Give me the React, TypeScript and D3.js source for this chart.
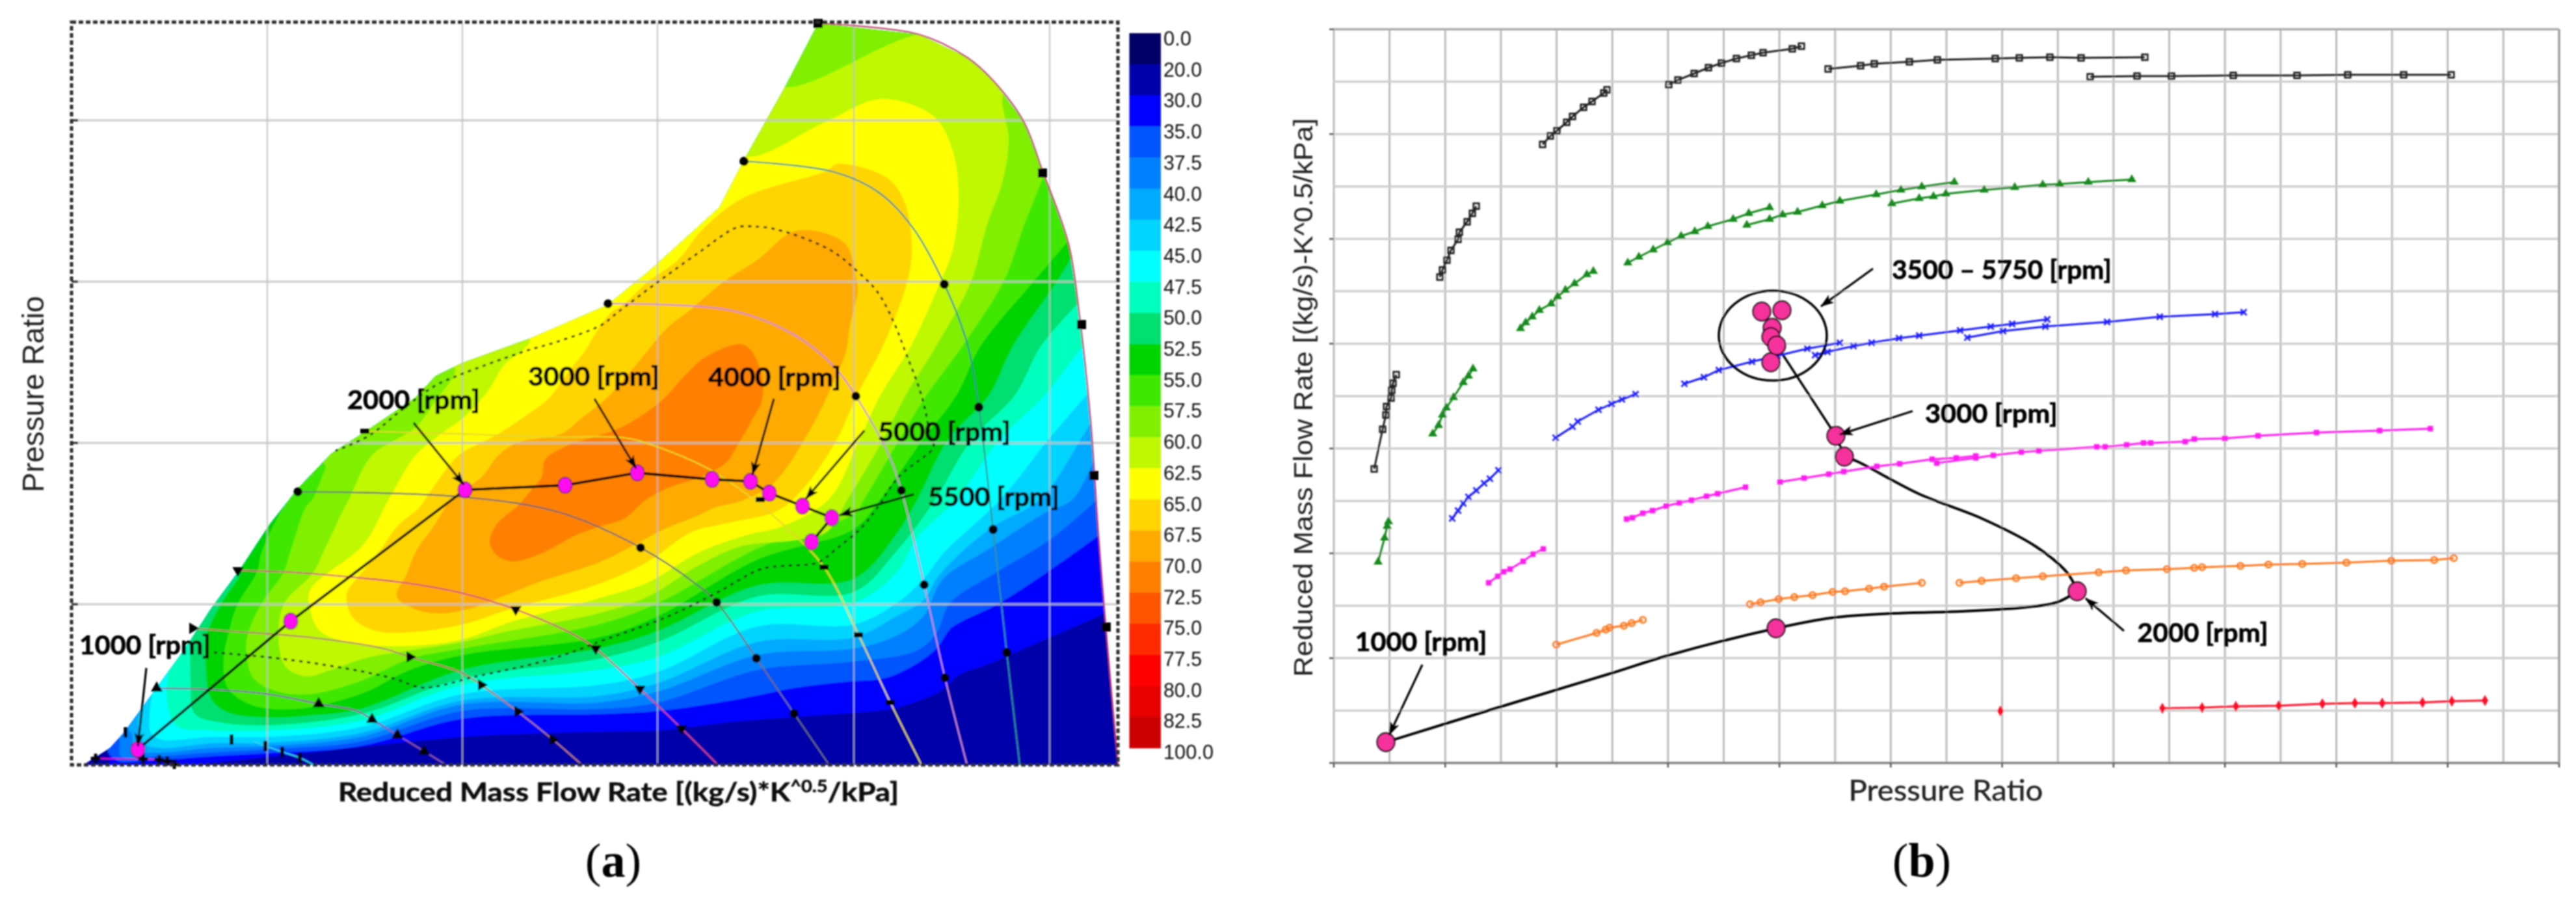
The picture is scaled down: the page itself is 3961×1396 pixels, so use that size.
import React from "react";
import * as d3 from "d3";

type P = [number, number];

// ---- panel (a): compressor efficiency map ----
const legendLabels = ["0.0", "20.0", "30.0", "35.0", "37.5", "40.0", "42.5", "45.0", "47.5", "50.0", "52.5", "55.0", "57.5", "60.0", "62.5", "65.0", "67.5", "70.0", "72.5", "75.0", "77.5", "80.0", "82.5", "100.0"];
const legendColors = ["#000066", "#0000AA", "#0000FF", "#0055FF", "#0080FF", "#00AAFF", "#00D4FF", "#00FFFF", "#00FFBF", "#00E070", "#00D400", "#40E800", "#80F000", "#BFF800", "#FFFF00", "#FFD500", "#FFAA00", "#FF8000", "#FF5500", "#FF2A00", "#FF0000", "#E60000", "#CC0000"];

const mapEnvelope: P[] = [[18, 0], [59, 26], [81, 50], [126, 112], [171, 174], [215, 241], [260, 302], [304, 369], [349, 426], [400, 479], [451, 512], [528, 564], [560, 598], [601, 618], [706, 656], [824, 707], [890, 761], [996, 857], [1033, 928], [1097, 1042], [1148, 1140], [1303, 1123], [1378, 1087], [1418, 1051], [1464, 989], [1493, 913], [1533, 801], [1550, 689], [1567, 528], [1579, 355], [1590, 217], [1609, 0]];

// iso-efficiency curves that run from the choke side round to the surge side
const eff30: P[] = [[1590, 233], [1504, 196], [1407, 154], [1366, 139], [1335, 113], [1295, 96], [1259, 86], [1116, 74], [1014, 66], [902, 53], [810, 51], [601, 43], [367, 19], [168, -1], [60, -10]];
const eff35: P[] = [[1580, 353], [1504, 299], [1422, 246], [1366, 219], [1351, 209], [1330, 179], [1295, 153], [1249, 133], [1193, 128], [1116, 119], [1014, 99], [902, 83], [810, 78], [601, 71], [444, 29], [301, 18], [214, 13], [112, 6], [71, 6], [56, 19]];
const eff375: P[] = [[1575, 406], [1504, 346], [1422, 296], [1351, 249], [1330, 203], [1300, 176], [1203, 159], [1055, 146], [902, 96], [810, 86], [601, 83], [444, 36], [301, 24], [214, 19], [127, 13], [76, 13], [74, 33]];
const eff40: P[] = [[1572, 469], [1540, 409], [1494, 386], [1412, 333], [1340, 286], [1310, 229], [1269, 199], [1203, 179], [1055, 169], [902, 113], [810, 96], [601, 93], [444, 43], [301, 29], [214, 26], [132, 19], [97, 23], [92, 49], [88, 52]];
const eff425: P[] = [[1567, 526], [1551, 499], [1490, 409], [1412, 363], [1335, 293], [1310, 253], [1269, 229], [1203, 196], [1055, 189], [902, 126], [810, 106], [601, 99], [444, 49], [301, 34], [214, 33], [138, 26], [112, 33], [102, 63], [107, 89]];
const eff45: P[] = [[1561, 569], [1501, 499], [1429, 409], [1341, 326], [1310, 286], [1269, 249], [1203, 216], [1055, 213], [902, 143], [810, 123], [601, 109], [444, 58], [301, 43], [214, 43], [138, 39], [122, 49], [120, 76], [125, 116]];
const eff475: P[] = [[1554, 643], [1497, 569], [1426, 499], [1361, 409], [1300, 349], [1269, 296], [1203, 249], [1055, 236], [902, 166], [810, 146], [601, 123], [444, 68], [301, 53], [214, 53], [163, 59], [148, 89], [148, 136], [158, 169]];
const eff50: P[] = [[1547, 709], [1490, 643], [1451, 569], [1383, 499], [1329, 409], [1269, 329], [1203, 266], [1055, 259], [902, 189], [810, 163], [601, 133], [444, 78], [301, 61], [224, 66], [189, 79], [183, 129], [183, 179], [186, 196], [201, 219], [214, 243]];
const eff525: P[] = [[1538, 781], [1515, 743], [1447, 643], [1411, 569], [1347, 499], [1301, 409], [1269, 356], [1203, 286], [1055, 276], [902, 206], [810, 179], [601, 146], [444, 86], [367, 76], [301, 73], [240, 81], [214, 103], [206, 163], [206, 196], [229, 246], [260, 296], [257, 299]];
const eff55: P[] = [[1533, 806], [1479, 743], [1397, 643], [1361, 569], [1308, 499], [1244, 409], [1203, 363], [1055, 316], [902, 229], [810, 196], [601, 169], [520, 146], [444, 109], [342, 86], [275, 93], [240, 119], [234, 163], [240, 196], [255, 246], [285, 296], [293, 329], [326, 396], [349, 426]];
const eff575: P[] = [[1495, 906], [1464, 828], [1433, 743], [1369, 643], [1315, 569], [1272, 499], [1219, 409], [1203, 386], [1055, 333], [902, 249], [810, 216], [601, 179], [520, 163], [444, 129], [367, 109], [316, 113], [280, 133], [270, 163], [270, 196], [291, 246], [326, 296], [337, 329], [360, 396], [371, 409], [391, 459]];

// closed islands
const eff60: P[] = [[319, 183], [326, 246], [372, 296], [388, 329], [420, 396], [427, 409], [462, 476], [529, 519], [559, 559], [590, 608], [570, 636], [1040, 1076], [1097, 1042], [1303, 1123], [1390, 1116], [1450, 1046], [1432, 1029], [1441, 962], [1432, 899], [1407, 828], [1383, 743], [1329, 643], [1283, 569], [1247, 499], [1194, 409], [1162, 359], [1116, 346], [1029, 336], [963, 306], [887, 259], [810, 233], [673, 206], [601, 189], [520, 176], [459, 166], [398, 146], [362, 136], [331, 149]];
const eff625: P[] = [[367, 239], [367, 269], [449, 339], [488, 409], [529, 476], [564, 506], [605, 536], [641, 576], [666, 616], [692, 636], [705, 654], [680, 686], [990, 966], [1040, 935], [1160, 989], [1246, 1024], [1326, 997], [1355, 944], [1364, 872], [1355, 792], [1336, 743], [1290, 643], [1244, 569], [1211, 499], [1165, 409], [1091, 366], [1040, 354], [963, 326], [887, 281], [810, 256], [673, 219], [601, 193], [520, 183], [428, 188], [382, 206]];
const eff65: P[] = [[423, 263], [444, 293], [474, 329], [500, 366], [535, 396], [544, 409], [595, 476], [631, 496], [656, 509], [697, 536], [733, 563], [763, 603], [789, 636], [809, 669], [830, 696], [850, 709], [886, 743], [932, 776], [970, 823], [1033, 872], [1160, 913], [1177, 924], [1252, 904], [1280, 868], [1292, 797], [1285, 743], [1247, 643], [1208, 569], [1176, 499], [1126, 426], [1086, 391], [1004, 371], [953, 358], [887, 313], [810, 278], [673, 239], [601, 216], [520, 204], [469, 206], [433, 226]];
const eff675: P[] = [[500, 259], [515, 293], [530, 329], [556, 366], [585, 409], [631, 443], [656, 476], [687, 496], [753, 509], [784, 533], [825, 566], [871, 619], [917, 673], [947, 696], [1003, 743], [1054, 776], [1114, 821], [1188, 803], [1206, 752], [1209, 730], [1197, 676], [1190, 633], [1169, 583], [1136, 516], [1079, 433], [1030, 406], [989, 396], [963, 383], [912, 363], [861, 336], [810, 311], [724, 283], [673, 263], [622, 243], [571, 233], [530, 239]];
const eff70: P[] = [[667, 383], [687, 399], [707, 423], [723, 443], [728, 469], [758, 489], [845, 519], [906, 559], [947, 603], [978, 629], [1034, 646], [1059, 609], [1062, 563], [1044, 526], [1019, 483], [1008, 466], [968, 443], [917, 426], [881, 406], [850, 379], [810, 366], [775, 353], [724, 326], [678, 313], [653, 323], [643, 343], [653, 369]];

const openCurves: [string, P[]][] = [["30.0", eff30], ["35.0", eff35], ["37.5", eff375], ["40.0", eff40], ["42.5", eff425], ["45.0", eff45], ["47.5", eff475], ["50.0", eff50], ["52.5", eff525], ["55.0", eff55], ["57.5", eff575]];
const closedCurves: [string, P[]][] = [["60.0", eff60], ["62.5", eff625], ["65.0", eff65], ["67.5", eff675], ["70.0", eff70]];

// speed lines, each with the points measured on it
const speed1: P[] = [[1148, 1140], [1303, 1123], [1378, 1087], [1418, 1051], [1464, 989], [1493, 913], [1533, 801], [1550, 689], [1567, 528], [1579, 355], [1590, 217], [1609, 0]];
const speed1Pts: P[] = [[1148, 1140], [1493, 910], [1553, 677], [1572, 445], [1591, 212]];
const speed2: P[] = [[1034, 928], [1171, 912], [1240, 881], [1292, 828], [1342, 739], [1378, 645], [1395, 550], [1417, 362], [1438, 173], [1458, 0]];
const speed2Pts: P[] = [[1034, 928], [1342, 739], [1395, 550], [1417, 362], [1438, 173]];
const speed3: P[] = [[825, 709], [1013, 699], [1108, 663], [1171, 614], [1206, 567], [1257, 476], [1276, 422], [1311, 277], [1343, 134], [1377, 0]];
const speed3Pts: P[] = [[825, 709], [1206, 567], [1276, 422], [1311, 277], [1343, 134]];
const speed4: P[] = [[451, 513], [595, 509], [748, 504], [850, 503], [901, 489], [978, 456], [1029, 423], [1096, 368], [1157, 304], [1210, 200], [1259, 96], [1307, 0]];
const speed4Pts: P[] = [[451, 513], [1059, 408], [1157, 304], [1210, 200], [1259, 96]];
const speed5: P[] = [[348, 420], [601, 412], [751, 388], [875, 334], [963, 276], [992, 250], [1053, 164], [1111, 79], [1165, 0]];
const speed5Pts: P[] = [[348, 420], [875, 334], [992, 250], [1053, 164], [1111, 79]];
const speed6: P[] = [[256, 299], [342, 296], [428, 289], [520, 279], [601, 264], [683, 239], [775, 199], [806, 179], [874, 117], [938, 56], [994, 0]];
const speed6Pts: P[] = [[256, 299], [683, 239], [806, 179], [874, 117], [938, 56]];
const speed7: P[] = [[186, 210], [240, 206], [367, 196], [479, 179], [520, 166], [597, 143], [630, 123], [686, 82], [740, 39], [785, 0]];
const speed7Pts: P[] = [[186, 210], [520, 166], [630, 123], [686, 82], [740, 39]];
const speed8: P[] = [[131, 118], [214, 116], [301, 109], [380, 94], [439, 83], [462, 70], [501, 46], [542, 21], [576, 0]];
const speed8Pts: P[] = [[131, 118], [380, 94], [462, 70], [501, 46], [542, 21]];
const speed9: P[] = [[280, 36], [298, 29], [324, 20], [351, 11], [372, 0]];
const speed9Pts: P[] = [[83, 50], [246, 39], [298, 29], [324, 20], [351, 11]];
const speed10: P[] = [[37, 10], [110, 9], [135, 8], [147, 6], [158, 1]];

const surgeLimit: P[] = [[219, 173], [316, 164], [418, 149], [495, 133], [541, 119], [622, 136], [724, 159], [785, 179], [810, 189], [912, 226], [989, 263], [1060, 301], [1096, 306], [1147, 311], [1177, 333], [1213, 363], [1236, 391], [1272, 443], [1326, 489], [1322, 499], [1311, 553], [1301, 586], [1283, 633], [1265, 679], [1240, 726], [1206, 761], [1166, 792], [1085, 823], [1045, 828], [1022, 826], [965, 788], [901, 742], [840, 696], [814, 676], [748, 651], [697, 636], [595, 599], [559, 583], [508, 546], [457, 506], [406, 483]];
const opLineA: P[] = [[102, 24], [337, 221], [605, 423], [759, 430], [870, 449], [985, 439], [1044, 436], [1073, 418], [1124, 398], [1169, 380], [1138, 343]];

const xGridA = [301, 601, 901, 1203, 1504];
const yGridA = [247, 495, 743, 991];

// label, label x, label y, label width, arrow start x, y, arrow tip x, y
const notesA: [string, number, number, number, number, number, number, number][] = [
  ["1000 [rpm]", 113, 186, 202, 115, 149, 102, 29],
  ["2000 [rpm]", 526, 563, 204, 526, 526, 603, 431],
  ["3000 [rpm]", 803, 599, 202, 804, 563, 868, 456],
  ["4000 [rpm]", 1081, 598, 204, 1080, 563, 1047, 446],
  ["5000 [rpm]", 1342, 514, 204, 1219, 514, 1129, 409],
  ["5500 [rpm]", 1418, 414, 202, 1295, 416, 1181, 384],
];

// ---- panel (b): speed lines in reduced flow / pressure ratio ----
const black1: P[] = [[62, 452], [75, 513], [80, 535], [81, 548], [88, 561], [89, 573], [91, 584], [96, 597]];
const black2: P[] = [[163, 747], [167, 758], [174, 773], [180, 788], [191, 805], [193, 816], [205, 832], [213, 845], [219, 856]];
const black3: P[] = [[321, 951], [333, 964], [343, 972], [358, 985], [367, 994], [384, 1008], [397, 1017], [415, 1030], [420, 1035]];
const black4: P[] = [[515, 1043], [529, 1050], [554, 1060], [576, 1069], [596, 1076], [619, 1083], [642, 1088], [660, 1092], [705, 1098], [719, 1102]];
const black5: P[] = [[760, 1067], [810, 1072], [831, 1075], [885, 1078], [928, 1081], [1017, 1083], [1054, 1084], [1101, 1085], [1149, 1084], [1247, 1085]];
const black6: P[] = [[1163, 1055], [1235, 1056], [1288, 1056], [1383, 1057], [1481, 1057], [1559, 1058], [1645, 1058], [1718, 1058]];
const green1: P[] = [[68, 309], [78, 346], [82, 364], [84, 371]];
const green2: P[] = [[152, 506], [161, 519], [167, 535], [173, 546], [184, 562], [199, 585], [207, 595], [214, 606]];
const green3: P[] = [[287, 668], [295, 677], [305, 686], [316, 696], [334, 706], [344, 717], [356, 727], [370, 737], [389, 751], [399, 756]];
const green4: P[] = [[452, 769], [469, 778], [491, 789], [513, 800], [534, 810], [555, 817], [575, 825], [614, 836], [638, 845], [670, 854]];
const green5: P[] = [[635, 827], [670, 836], [690, 843], [713, 847], [751, 857], [778, 864], [834, 874], [872, 881], [904, 886], [954, 893]];
const green6: P[] = [[858, 860], [900, 868], [922, 871], [941, 875], [1000, 881], [1047, 885], [1090, 889], [1116, 890], [1160, 893], [1227, 897]];
const blue1: P[] = [[182, 376], [191, 388], [199, 399], [207, 409], [219, 419], [231, 430], [240, 437], [253, 450]];
const blue2: P[] = [[341, 500], [367, 517], [375, 525], [407, 543], [427, 552], [443, 559], [464, 567]];
const blue3: P[] = [[539, 583], [569, 593], [592, 604], [643, 617], [682, 626], [728, 637], [778, 646]];
const blue4: P[] = [[740, 627], [759, 632], [799, 641], [827, 646], [869, 653], [900, 657], [963, 665], [1010, 671], [1043, 675], [1097, 682]];
const blue5: P[] = [[974, 654], [1029, 664], [1094, 671], [1189, 678], [1270, 686], [1355, 690], [1399, 693]];
const magenta1: P[] = [[238, 277], [252, 287], [261, 294], [271, 298], [291, 310], [306, 321], [322, 329]];
const magenta2: P[] = [[450, 375], [459, 377], [475, 384], [490, 388], [511, 395], [531, 400], [550, 404], [573, 410], [590, 414], [633, 424]];
const magenta3: P[] = [[686, 432], [723, 438], [761, 444], [784, 448], [835, 456], [870, 460], [920, 467], [957, 469], [987, 472]];
const magenta4: P[] = [[927, 461], [987, 469], [1014, 473], [1057, 478], [1084, 480], [1173, 486], [1186, 486], [1219, 489], [1245, 492], [1256, 492], [1309, 494], [1323, 498], [1370, 499], [1421, 503], [1511, 508], [1608, 511], [1686, 514]];
const orange1: P[] = [[342, 182], [404, 200], [418, 205], [424, 208], [446, 211], [458, 215], [475, 220]];
const orange2: P[] = [[640, 244], [656, 247], [684, 252], [708, 255], [736, 258], [767, 263], [786, 264], [823, 268], [846, 271], [904, 277]];
const orange3: P[] = [[962, 277], [996, 280], [1049, 284], [1090, 287], [1176, 293], [1218, 296], [1281, 298], [1323, 300], [1335, 301], [1394, 303], [1437, 305], [1489, 306], [1557, 308], [1626, 311], [1692, 312], [1722, 315]];
const red1: P[] = [[1025, 80]];
const red2: P[] = [[1274, 84], [1335, 85], [1387, 87], [1453, 88], [1520, 91], [1570, 92], [1612, 92], [1674, 93], [1719, 95], [1770, 96]];

const opLowerB: P[] = [[80, 32], [255, 86], [427, 138], [513, 165], [680, 207], [765, 223], [861, 230], [963, 233], [1060, 239], [1112, 247], [1143, 264]];
const opUpperB: P[] = [[1143, 264], [1128, 292], [1079, 333], [996, 376], [899, 414], [804, 464], [785, 471]];
const opTopB: P[] = [[785, 471], [772, 503], [681, 642]];
const opPointsB: P[] = [[80, 32], [680, 207], [1143, 264], [785, 471], [772, 503], [672, 616], [658, 694], [689, 696], [674, 669], [672, 655], [681, 642]];

const notesB: [string, number, number, number, number, number, number, number][] = [
  ["3500 – 5750 [rpm]", 1027, 760, 338, 829, 760, 749, 702],
  ["3000 [rpm]", 1011, 539, 204, 890, 541, 778, 505],
  ["2000 [rpm]", 1336, 202, 201, 1215, 203, 1156, 253],
  ["1000 [rpm]", 134, 188, 203, 136, 151, 85, 43],
];

const xa = d3.scaleLinear().domain([0, 1609]).range([110, 1719]);
const ya = d3.scaleLinear().domain([0, 1142]).range([1176, 34]);
const xb = d3.scaleLinear().domain([0, 1884]).range([2051, 3935]);
const yb = d3.scaleLinear().domain([0, 1128]).range([1173, 45]);

const legendY = d3.scaleBand().domain(legendColors).range([51, 1150]);
const effColor = d3.scaleOrdinal<string, string>().domain(legendLabels.slice(0, -1)).range(legendColors);

const lineA = d3.line<P>().x((d) => xa(d[0])).y((d) => ya(d[1])).curve(d3.curveCatmullRom.alpha(0.5));
const closedA = d3.line<P>().x((d) => xa(d[0])).y((d) => ya(d[1])).curve(d3.curveCatmullRomClosed.alpha(0.5));
const straightA = d3.line<P>().x((d) => xa(d[0])).y((d) => ya(d[1]));
const lineB = d3.line<P>().x((d) => xb(d[0])).y((d) => yb(d[1])).curve(d3.curveCatmullRom.alpha(0.5));
const straightB = d3.line<P>().x((d) => xb(d[0])).y((d) => yb(d[1]));

const labelFont = "Lato, 'Open Sans', sans-serif";
const arialFont = "'Liberation Sans', Arial, sans-serif";
const serifFont = "'Liberation Serif', 'Times New Roman', serif";

const sym = (type: d3.SymbolType, size: number) => d3.symbol().type(type).size(size)() as string;

function Markers({ pts, x, y, d, fill, stroke = "none", sw = 0, rotate = 0, sx = 1, sy = 1 }: any) {
  return (
    <g>
      {pts.map((p: P, i: number) => (
        <path key={i} d={d} fill={fill} stroke={stroke} strokeWidth={sw}
          transform={`translate(${x(p[0])},${y(p[1])}) rotate(${rotate}) scale(${sx},${sy})`} />
      ))}
    </g>
  );
}

function Note({ note, x, y }: any) {
  const [label, lx, ly, w, ax, ay, tx, ty] = note;
  return (
    <g>
      <line x1={x(ax)} y1={y(ay)} x2={x(tx)} y2={y(ty)} stroke="#000" strokeWidth={3.2} markerEnd="url(#arrowHead)" />
      <text x={x(lx)} y={y(ly)} textAnchor="middle" dominantBaseline="central" fontFamily={labelFont} fontWeight={700} fontSize={41}
        textLength={w} lengthAdjust="spacingAndGlyphs" fill="#000" stroke="#000" strokeWidth={0.7}>{label}</text>
    </g>
  );
}

function PanelA() {
  const wrap = `L${xa(-30)},${ya(1165)}L${xa(1650)},${ya(1165)}Z`;
  const speedLines: [P[], string][] = [
    [speed1, "#c0396a"], [speed2, "#2f9090"], [speed3, "#cf86cf"], [speed4, "#e6d628"], [speed5, "#6a6a6a"],
    [speed6, "#d8437c"], [speed7, "#b8786a"], [speed8, "#8d52a8"], [speed9, "#2fd6e8"], [speed10, "#e815d0"],
  ];
  return (
    <g>
      <clipPath id="mapClip"><path d={straightA(mapEnvelope) + "Z"} /></clipPath>
      <g clipPath="url(#mapClip)">
        <rect x={xa(0)} y={ya(1142)} width={xa(1609) - xa(0)} height={ya(0) - ya(1142)} fill={effColor("20.0")} />
        {openCurves.map(([lvl, pts]) => <path key={lvl} d={lineA(pts) + wrap} fill={effColor(lvl)} />)}
        {closedCurves.map(([lvl, pts]) => <path key={lvl} d={closedA(pts) as string} fill={effColor(lvl)} />)}
      </g>

      {xGridA.map((v) => <line key={v} x1={xa(v)} x2={xa(v)} y1={ya(0)} y2={ya(1142)} stroke="#bdbdbd" strokeOpacity={0.75} strokeWidth={2.5} />)}
      {yGridA.map((v) => <line key={v} x1={xa(0)} x2={xa(1609)} y1={ya(v)} y2={ya(v)} stroke="#c4c4c4" strokeOpacity={0.8} strokeWidth={3.5} />)}

      {speedLines.map(([pts, c], i) => <path key={i} d={lineA(pts) as string} fill="none" stroke={c} strokeWidth={2.2} />)}
      <path d={lineA(surgeLimit) as string} fill="none" stroke="#222" strokeWidth={3} strokeDasharray="5 7" />

      <Markers pts={speed1Pts} x={xa} y={ya} d={sym(d3.symbolSquare, 196)} fill="#000" />
      <Markers pts={speed2Pts} x={xa} y={ya} d={sym(d3.symbolCircle, 150)} fill="#000" />
      <Markers pts={speed3Pts} x={xa} y={ya} d={sym(d3.symbolCircle, 140)} fill="#000" />
      <Markers pts={speed4Pts} x={xa} y={ya} d={sym(d3.symbolSquare, 100)} fill="#000" sx={1.4} sy={0.75} />
      <Markers pts={speed5Pts} x={xa} y={ya} d={sym(d3.symbolCircle, 140)} fill="#000" />
      <Markers pts={speed6Pts} x={xa} y={ya} d={sym(d3.symbolTriangle, 130)} fill="#000" rotate={180} />
      <Markers pts={speed7Pts} x={xa} y={ya} d={sym(d3.symbolTriangle, 130)} fill="#000" rotate={90} />
      <Markers pts={speed8Pts} x={xa} y={ya} d={sym(d3.symbolTriangle, 140)} fill="#000" />
      <Markers pts={speed9Pts} x={xa} y={ya} d={sym(d3.symbolSquare, 100)} fill="#000" sx={0.55} sy={1.6} />
      <Markers pts={speed10} x={xa} y={ya} d={sym(d3.symbolCross, 120)} fill="#000" />

      <path d={straightA(opLineA) as string} fill="none" stroke="#000" strokeWidth={3.8} />
      <Markers pts={opLineA} x={xa} y={ya} d={sym(d3.symbolCircle, 400)} fill="#ff10f0" stroke="#111" sw={1.2} sx={0.95} sy={1.1} />

      <rect x={xa(0)} y={ya(1142)} width={xa(1609) - xa(0)} height={ya(0) - ya(1142)} fill="none" stroke="#2a2a2a" strokeWidth={5} strokeDasharray="7 4" />
      {yGridA.map((v) => <line key={v} x1={xa(0)} x2={xa(0) + 10} y1={ya(v)} y2={ya(v)} stroke="#222" strokeWidth={3} />)}

      {notesA.map((n) => <Note key={n[0]} note={n} x={xa} y={ya} />)}

      {legendColors.map((c) => (
        <rect key={c} x={1736.5} y={legendY(c)} width={48.5} height={legendY.bandwidth() + 0.5} fill={c} />
      ))}
      {legendLabels.map((l, i) => (
        <text key={l} x={1789} y={59 + i * 47.7} dominantBaseline="central" fontFamily={arialFont} fontSize={32}
          textLength={l.length === 5 ? 77 : l.length === 4 ? 59 : 43} lengthAdjust="spacingAndGlyphs" fill="#111">{l}</text>
      ))}

      <text x={951} y={1232} textAnchor="middle" fontFamily={labelFont} fontWeight={700} fontSize={41} textLength={862} lengthAdjust="spacingAndGlyphs" fill="#111" stroke="#111" strokeWidth={0.6}>
        Reduced Mass Flow Rate [(kg/s)*K<tspan dy={-14} fontSize={26}>^0.5</tspan><tspan dy={14}>/kPa]</tspan>
      </text>
      <text transform="translate(67,606) rotate(-90)" textAnchor="middle" fontFamily={arialFont} fontSize={46} textLength={302} lengthAdjust="spacingAndGlyphs" fill="#222">Pressure Ratio</text>
      <text x={943} y={1348} textAnchor="middle" fontFamily={serifFont} fontSize={74} fill="#000">(<tspan fontWeight={700}>a</tspan>)</text>
    </g>
  );
}

function PanelB() {
  const xTicks = d3.range(0, 23).map((i) => (i * 1884) / 22);
  const yTicks = d3.range(0, 15).map((i) => (i * 1128) / 14);
  const series: [P[][], string, string, number, boolean][] = [
    [[black1, black2, black3, black4, black5, black6], sym(d3.symbolSquare, 75), "#222222", 2.6, true],
    [[green1, green2, green3, green4, green5, green6], sym(d3.symbolTriangle, 85), "#158a1c", 0, false],
    [[blue1, blue2, blue3, blue4, blue5], sym(d3.symbolTimes, 55), "#1a1aff", 2.6, true],
    [[magenta1, magenta2, magenta3, magenta4], sym(d3.symbolSquare, 70), "#ff1cf0", 0, false],
    [[orange1, orange2, orange3], sym(d3.symbolCircle, 70), "#ff7a20", 2.8, true],
    [[red1, red2], sym(d3.symbolDiamond, 85), "#ff0a28", 0, false],
  ];
  return (
    <g>
      {xTicks.map((v, i) => <line key={i} x1={xb(v)} x2={xb(v)} y1={yb(0)} y2={yb(1128)} stroke="#bcbcbc" strokeWidth={3} />)}
      {yTicks.map((v, i) => <line key={i} x1={xb(0)} x2={xb(1884)} y1={yb(v)} y2={yb(v)} stroke="#cfcfcf" strokeWidth={3.5} />)}
      <line x1={xb(0)} x2={xb(1884)} y1={yb(0)} y2={yb(0)} stroke="#777" strokeWidth={3} />
      <line x1={xb(0)} x2={xb(1884)} y1={yb(1128)} y2={yb(1128)} stroke="#a8a8a8" strokeWidth={3} />
      <line x1={xb(1884)} x2={xb(1884)} y1={yb(0)} y2={yb(1128)} stroke="#999" strokeWidth={3} />
      {xTicks.filter((_, i) => i % 2 === 0).map((v, i) => <line key={i} x1={xb(v)} x2={xb(v)} y1={yb(0)} y2={yb(0) + 7} stroke="#555" strokeWidth={2.5} />)}
      {yTicks.filter((_, i) => i % 2 === 0).map((v, i) => <line key={i} x1={xb(0) - 7} x2={xb(0)} y1={yb(v)} y2={yb(v)} stroke="#555" strokeWidth={2.5} />)}

      <path d={lineB(opLowerB) as string} fill="none" stroke="#000" strokeWidth={4} />
      <path d={lineB(opUpperB) as string} fill="none" stroke="#000" strokeWidth={4} />
      <path d={straightB(opTopB) as string} fill="none" stroke="#000" strokeWidth={3.5} />

      {series.map(([runs, d, c, sw, open], si) => (
        <g key={si}>
          {runs.map((pts, i) => <path key={i} d={straightB(pts) as string} fill="none" stroke={c} strokeWidth={3} />)}
          {runs.map((pts, i) => (
            <Markers key={i} pts={pts} x={xb} y={yb} d={d} fill={open ? "none" : c} stroke={open ? c : "none"} sw={sw} />
          ))}
        </g>
      ))}

      <ellipse cx={xb(675)} cy={yb(657)} rx={83} ry={69} fill="none" stroke="#000" strokeWidth={3.6} />
      <Markers pts={opPointsB} x={xb} y={yb} d={sym(d3.symbolCircle, 570)} fill="#f5339b" stroke="#111" sw={2.2} sx={1} sy={1.05} />

      {notesB.map((n) => <Note key={n[0]} note={n} x={xb} y={yb} />)}

      <text x={2992} y={1231} textAnchor="middle" fontFamily={labelFont} fontSize={44} textLength={299} lengthAdjust="spacingAndGlyphs" fill="#222" stroke="#222" strokeWidth={0.4}>Pressure Ratio</text>
      <text transform="translate(2018,611) rotate(-90)" textAnchor="middle" fontFamily={arialFont} fontSize={40} textLength={859} lengthAdjust="spacingAndGlyphs" fill="#222">Reduced Mass Flow Rate [(kg/s)-K^0.5/kPa]</text>
      <text x={2955} y={1348} textAnchor="middle" fontFamily={serifFont} fontSize={74} fill="#000">(<tspan fontWeight={700}>b</tspan>)</text>
    </g>
  );
}

export default function App() {
  return (
    <svg width={3961} height={1396} style={{ position: "absolute", left: 0, top: 0, background: "#fff" }}>
      <defs>
        <marker id="arrowHead" markerUnits="userSpaceOnUse" markerWidth={22} markerHeight={18} refX={20} refY={9} orient="auto">
          <path d="M0,1.5 L21,9 L0,16.5 L5,9 Z" fill="#000" />
        </marker>
        <filter id="soft" filterUnits="userSpaceOnUse" x={0} y={0} width={3961} height={1396}>
          <feGaussianBlur stdDeviation={0.8} />
        </filter>
      </defs>
      <g filter="url(#soft)">
        <PanelA />
        <PanelB />
      </g>
    </svg>
  );
}
